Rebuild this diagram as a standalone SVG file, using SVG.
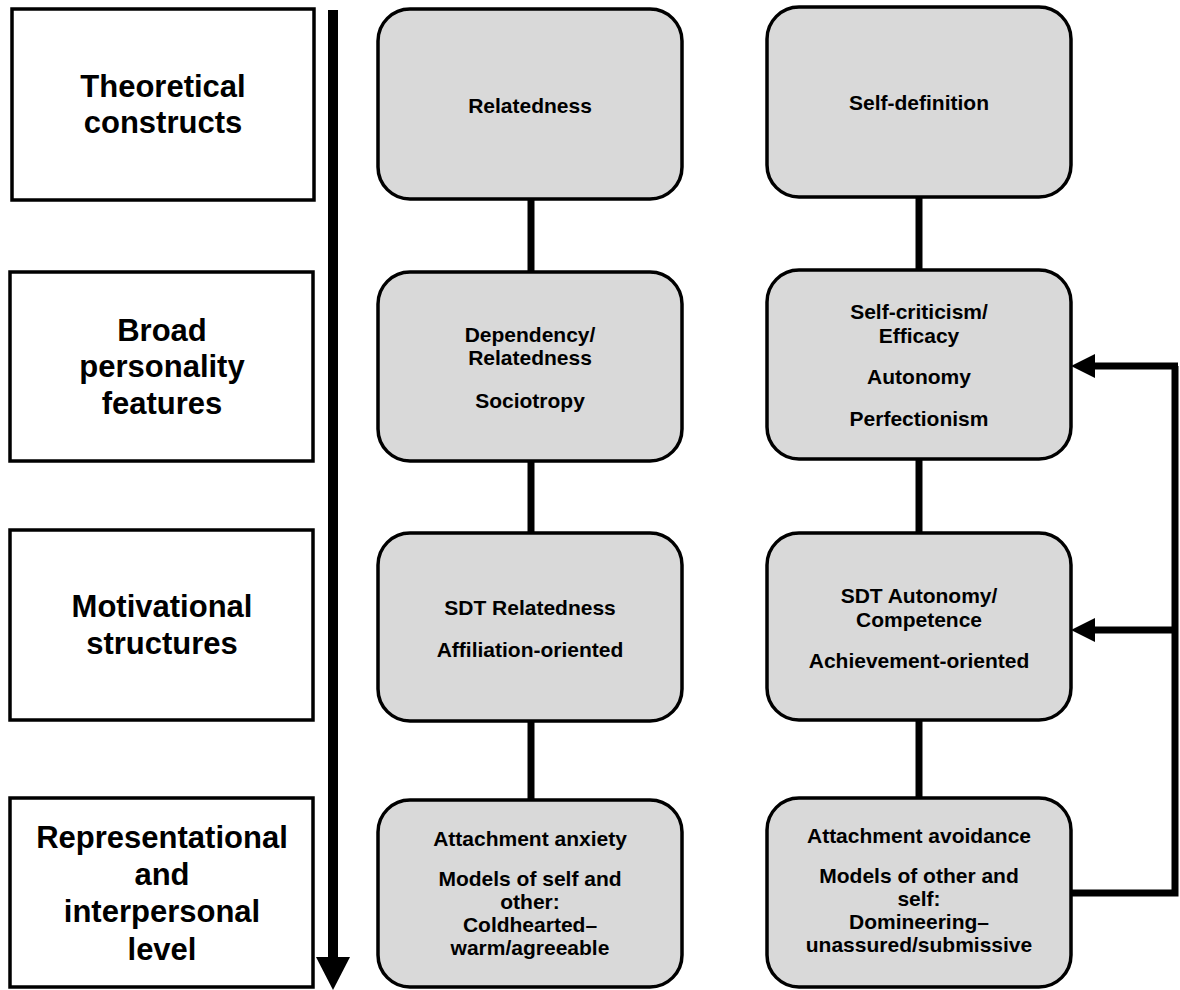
<svg xmlns="http://www.w3.org/2000/svg" width="1180" height="990" viewBox="0 0 1180 990">
<style>
.lvl{fill:#fff;stroke:#000;stroke-width:3.5}
.nd{fill:#d9d9d9;stroke:#000;stroke-width:3.5}
.lt{font-family:"Liberation Sans",Arial,sans-serif;font-weight:bold;font-size:31px;text-anchor:middle;fill:#000}
.nt{font-family:"Liberation Sans",Arial,sans-serif;font-weight:bold;font-size:21px;text-anchor:middle;fill:#000}
.cn{stroke:#000;stroke-width:7;fill:none}
</style>
<rect width="1180" height="990" fill="#fff"/>
<g id="level-theoretical">
<rect class="lvl" x="12" y="9" width="302" height="191"/>
<text class="lt" x="163" y="97">Theoretical</text>
<text class="lt" x="163" y="133">constructs</text>
</g>
<g id="level-broad">
<rect class="lvl" x="10" y="272" width="303" height="189"/>
<text class="lt" x="162" y="341">Broad</text>
<text class="lt" x="162" y="377">personality</text>
<text class="lt" x="162" y="414">features</text>
</g>
<g id="level-motivational">
<rect class="lvl" x="10" y="530" width="303" height="190"/>
<text class="lt" x="162" y="617">Motivational</text>
<text class="lt" x="162" y="654">structures</text>
</g>
<g id="level-representational">
<rect class="lvl" x="10" y="798" width="303" height="189"/>
<text class="lt" x="162" y="848">Representational</text>
<text class="lt" x="162" y="885">and</text>
<text class="lt" x="162" y="922">interpersonal</text>
<text class="lt" x="162" y="960">level</text>
</g>
<g id="n-relatedness">
<rect class="nd" x="378" y="9" width="304" height="190" rx="32"/>
<text class="nt" x="530" y="113">Relatedness</text>
</g>
<g id="n-selfdef">
<rect class="nd" x="767" y="7" width="304" height="190" rx="32"/>
<text class="nt" x="919" y="110">Self-definition</text>
</g>
<g id="n-dependency">
<rect class="nd" x="378" y="272" width="304" height="189" rx="32"/>
<text class="nt" x="530" y="342">Dependency/</text>
<text class="nt" x="530" y="365">Relatedness</text>
<text class="nt" x="530" y="408">Sociotropy</text>
</g>
<g id="n-selfcrit">
<rect class="nd" x="767" y="270" width="304" height="189" rx="32"/>
<text class="nt" x="919" y="319">Self-criticism/</text>
<text class="nt" x="919" y="343">Efficacy</text>
<text class="nt" x="919" y="384">Autonomy</text>
<text class="nt" x="919" y="426">Perfectionism</text>
</g>
<g id="n-sdtrel">
<rect class="nd" x="378" y="533" width="304" height="188" rx="32"/>
<text class="nt" x="530" y="615">SDT Relatedness</text>
<text class="nt" x="530" y="657">Affiliation-oriented</text>
</g>
<g id="n-sdtaut">
<rect class="nd" x="767" y="533" width="304" height="187" rx="32"/>
<text class="nt" x="919" y="603">SDT Autonomy/</text>
<text class="nt" x="919" y="627">Competence</text>
<text class="nt" x="919" y="668">Achievement-oriented</text>
</g>
<g id="n-anxiety">
<rect class="nd" x="378" y="800" width="304" height="187" rx="32"/>
<text class="nt" x="530" y="846">Attachment anxiety</text>
<text class="nt" x="530" y="886">Models of self and</text>
<text class="nt" x="530" y="909">other:</text>
<text class="nt" x="530" y="932">Coldhearted–</text>
<text class="nt" x="530" y="955">warm/agreeable</text>
</g>
<g id="n-avoidance">
<rect class="nd" x="767" y="798" width="304" height="189" rx="32"/>
<text class="nt" x="919" y="843">Attachment avoidance</text>
<text class="nt" x="919" y="883">Models of other and</text>
<text class="nt" x="919" y="906">self:</text>
<text class="nt" x="919" y="929">Domineering–</text>
<text class="nt" x="919" y="952">unassured/submissive</text>
</g>
<g id="connectors">
<line x1="333" y1="10" x2="333" y2="960" stroke="#000" stroke-width="10"/>
<polygon points="316,957 350,957 333,990" fill="#000"/>
<line class="cn" x1="531" y1="199" x2="531" y2="272"/>
<line class="cn" x1="531" y1="461" x2="531" y2="533"/>
<line class="cn" x1="531" y1="721" x2="531" y2="800"/>
<line class="cn" x1="919" y1="197" x2="919" y2="270"/>
<line class="cn" x1="919" y1="459" x2="919" y2="533"/>
<line class="cn" x1="919" y1="720" x2="919" y2="798"/>
<polyline class="cn" points="1071,893 1175,893 1175,366"/>
<line class="cn" x1="1092" y1="366" x2="1178" y2="366"/>
<line class="cn" x1="1092" y1="630" x2="1178" y2="630"/>
<polygon points="1071,366 1095,354 1095,378" fill="#000"/>
<polygon points="1071,630 1095,618 1095,642" fill="#000"/>
</g>
</svg>
